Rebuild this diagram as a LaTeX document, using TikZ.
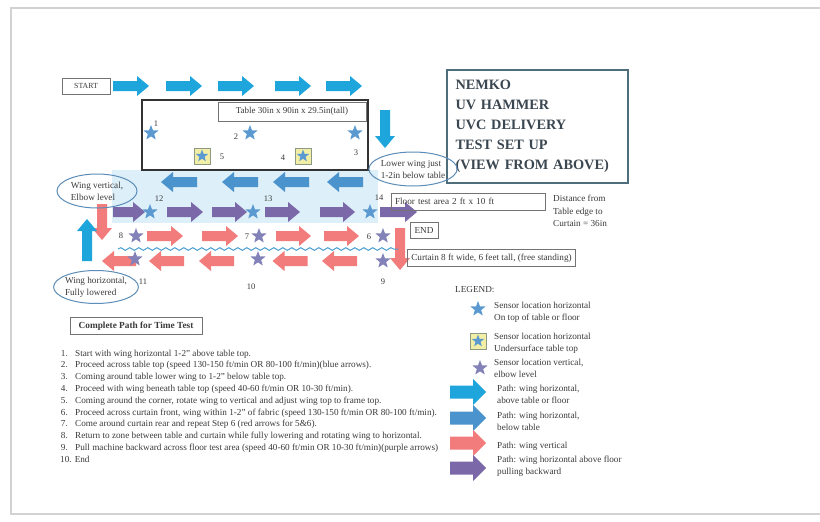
\documentclass[tikz,border=0pt]{standalone}
\usepackage{fontspec}
\setmainfont{Liberation Serif}
\usetikzlibrary{shapes.geometric,decorations.pathmorphing}
\definecolor{cyanA}{HTML}{1EA5DC}
\definecolor{blueB}{HTML}{4A93CC}
\definecolor{redC}{HTML}{F27B7B}
\definecolor{purpD}{HTML}{7B68A8}
\definecolor{starB}{HTML}{5A9AD0}
\definecolor{starP}{HTML}{8282B8}
\definecolor{floorblue}{HTML}{DDEFF8}
\definecolor{ellblue}{HTML}{5B8DB8}
\definecolor{titleframe}{HTML}{4E6E7C}
\definecolor{titletext}{HTML}{3A4650}
\definecolor{sqfill}{HTML}{F2EEA6}
\definecolor{sqborder}{HTML}{8C9A84}
\definecolor{curtainblue}{HTML}{4A9FD0}
\definecolor{txt}{HTML}{3A3A3A}
\newcommand\smallfnt{\fontsize{9.2}{12}\selectfont}
\newcommand\numfnt{\fontsize{8.5}{10}\selectfont}
\newcommand\pathar[8]{%
 \begin{scope}[shift={(#1,#2)},rotate=#3]
 \fill[#5] (-#4,-#6) -- (#4-#8,-#6) -- (#4-#8,-#7) -- (#4,0) -- (#4-#8,#7) -- (#4-#8,#6) -- (-#4,#6) -- cycle;
 \end{scope}}
\newcommand\diarr[5]{\pathar{#1}{#2}{#3}{#4}{#5}{5}{10}{12}}
\newcommand\lgarr[3]{\pathar{#1}{#2}{0}{18}{#3}{6.5}{13}{13}}
\begin{document}
\begin{tikzpicture}[x=1pt,y=-1pt,
  every node/.style={text=txt,font=\smallfnt},
  tbox/.style={draw=black!55,line width=0.6pt,inner xsep=4pt,inner ysep=0pt,minimum height=17pt},
  bstar/.style={star,star points=5,star point ratio=2.4,fill=starB,draw=none,inner sep=0pt,minimum size=16pt},
  pstar/.style={bstar,fill=starP},
  sqs/.style={draw=sqborder,fill=sqfill,line width=1pt,minimum size=16pt,inner sep=0pt},
  num/.style={inner sep=0pt,font=\numfnt},
  callout/.style={ellipse,draw=ellblue,line width=1pt,inner sep=-1pt,align=left},
  lnum/.style={anchor=base east,inner sep=0pt},
  ltxt/.style={anchor=base west,inner sep=0pt},
  lgtxt/.style={anchor=west,align=left,inner sep=0pt}]
\useasboundingbox (0,0) rectangle (820,522);
\clip (0,0) rectangle (820,522);
\fill[white] (0,0) rectangle (820,522);
\draw[gray!35,line width=2pt] (11,8) rectangle (840,514);
% floor area and table
\fill[floorblue] (112,170) rectangle (378,223);
\node[draw=black!80,line width=1.3pt,minimum width=226pt,minimum height=70pt,inner sep=0pt] (table) at (255,135) {};
\node[tbox,minimum width=148pt,minimum height=19pt,font=\fontsize{9}{11}\selectfont] (tlabel) at (292,111.5) {Table 30in x 90in x 29.5in(tall)};
% start
\node[tbox,minimum width=48pt,minimum height=16pt,font=\fontsize{7.8}{9}\selectfont] (start) at (86,86) {START};
% title
\node[draw=titleframe,line width=2.5pt,minimum height=113pt,align=left,text=titletext,
  font=\fontsize{14.3}{20}\selectfont\bfseries,inner xsep=8.5pt,text width=164pt] (title) at (537.5,126.5)
  {NEMKO\\UV HAMMER\\UVC DELIVERY\\TEST SET UP\\(VIEW FROM ABOVE)};
% top arrows (above table)
\diarr{131}{86}{0}{18}{cyanA}
\diarr{184}{86}{0}{18}{cyanA}
\diarr{236}{86}{0}{18}{cyanA}
\diarr{293}{86}{0}{18}{cyanA}
\diarr{344}{86}{0}{18}{cyanA}
\diarr{385}{129}{-90}{19}{cyanA}
% table sensors
\node[bstar] (s1) at (151,133) {};
\node[bstar] (s2) at (250,133) {};
\node[bstar] (s3) at (355,133) {};
\node[sqs] (q5) at (202,156) {};
\node[bstar,minimum size=13pt] (s5) at (q5) {};
\node[sqs] (q4) at (303,156) {};
\node[bstar,minimum size=13pt] (s4) at (q4) {};
\node[num] (n1) at (156,124) {1};
\node[num] (n2) at (236,137) {2};
\node[num] (n3) at (356,153) {3};
\node[num] (n4) at (283,158) {4};
\node[num] (n5) at (222,157) {5};
% below table arrows
\diarr{179}{182}{180}{18}{blueB}
\diarr{240}{182}{180}{18}{blueB}
\diarr{291}{182}{180}{18}{blueB}
\diarr{345}{182}{180}{18}{blueB}
% purple arrows
\diarr{129}{212}{0}{16}{purpD}
\diarr{185}{212}{0}{18}{purpD}
\diarr{229.5}{212}{0}{17.5}{purpD}
\diarr{282.5}{212}{0}{17.5}{purpD}
\diarr{337.5}{212}{0}{17.5}{purpD}
\diarr{398.5}{212}{0}{18.5}{purpD}
\node[bstar] (s12) at (150,212) {};
\node[bstar] (s13) at (253,212) {};
\node[bstar] (s14) at (370,212) {};
\node[num] (n12) at (159,199) {12};
\node[num] (n13) at (268,199) {13};
\node[num] (n14) at (379,198) {14};
% corner arrows
\diarr{102}{222}{-90}{18}{redC}
\diarr{87}{240}{90}{21}{cyanA}
\diarr{400}{249}{-90}{21}{redC}
% curtain front row
\diarr{165}{236}{0}{18}{redC}
\diarr{220}{236}{0}{18}{redC}
\diarr{293.5}{236}{0}{17.5}{redC}
\diarr{341.5}{236}{0}{17.5}{redC}
\node[pstar] (s8) at (136,236) {};
\node[pstar] (s7) at (259,236) {};
\node[pstar] (s6) at (383,236) {};
\node[num] (n8) at (121,236) {8};
\node[num] (n7) at (247,237) {7};
\node[num] (n6) at (369,237) {6};
% curtain
\draw[curtainblue,line width=1pt,decorate,decoration={snake,amplitude=1.3pt,segment length=9pt}] (118,249) -- (398,249);
% curtain rear row
\diarr{119}{261}{180}{17}{redC}
\diarr{166.5}{261}{180}{17.5}{redC}
\diarr{216.5}{261}{180}{17.5}{redC}
\diarr{290}{261}{180}{17.5}{redC}
\diarr{339.5}{261}{180}{17.5}{redC}
\node[pstar] (s11) at (135,259) {};
\node[pstar] (s10) at (258,259) {};
\node[pstar] (s9) at (383,261) {};
\node[num] (n11) at (143,282) {11};
\node[num] (n10) at (251,287) {10};
\node[num] (n9) at (383,282) {9};
% callouts
\node[callout,minimum width=86pt,minimum height=34pt] (lw) at (413,169) {Lower wing just\\1-2in below table};
\node[callout,minimum width=80pt,minimum height=34pt] (wv) at (97,191) {Wing vertical,\\Elbow level};
\node[callout,minimum width=84pt,minimum height=33pt] (wh) at (96,287) {Wing horizontal,\\Fully lowered};
% side boxes
\node[tbox,minimum width=154pt,text width=146pt,align=left] (floor) at (468,201.5) {Floor test area 2 ft x 10 ft};
\node[tbox,minimum width=28pt,minimum height=16pt] (end) at (424,230) {END};
\node[tbox,anchor=west] (curtain) at (407,258) {Curtain 8 ft wide, 6 feet tall, (free standing)};
\node[lgtxt,font=\fontsize{9.2}{12.5}\selectfont] (dist) at (553,211) {Distance from\\Table edge to\\Curtain = 36in};
% path list
\node[tbox,minimum width=132pt,font=\fontsize{9.3}{10}\selectfont\bfseries] (cpt) at (136,326) {Complete Path for Time Test};
\node[lnum] (l1) at (68,356) {1.};
\node[ltxt] (t1) at (75,356) {Start with wing horizontal 1-2” above table top.};
\node[lnum] (l2) at (68,367.8) {2.};
\node[ltxt] (t2) at (75,367.8) {Proceed across table top (speed 130-150 ft/min OR 80-100 ft/min)(blue arrows).};
\node[lnum] (l3) at (68,379.6) {3.};
\node[ltxt] (t3) at (75,379.6) {Coming around table lower wing to 1-2” below table top.};
\node[lnum] (l4) at (68,391.4) {4.};
\node[ltxt] (t4) at (75,391.4) {Proceed with wing beneath table top (speed 40-60 ft/min OR 10-30 ft/min).};
\node[lnum] (l5) at (68,403.2) {5.};
\node[ltxt] (t5) at (75,403.2) {Coming around the corner, rotate wing to vertical and adjust wing top to frame top.};
\node[lnum] (l6) at (68,415) {6.};
\node[ltxt] (t6) at (75,415) {Proceed across curtain front, wing within 1-2” of fabric (speed 130-150 ft/min OR 80-100 ft/min).};
\node[lnum] (l7) at (68,426.8) {7.};
\node[ltxt] (t7) at (75,426.8) {Come around curtain rear and repeat Step 6 (red arrows for 5\&6).};
\node[lnum] (l8) at (68,438.6) {8.};
\node[ltxt] (t8) at (75,438.6) {Return to zone between table and curtain while fully lowering and rotating wing to horizontal.};
\node[lnum] (l9) at (68,450.4) {9.};
\node[ltxt] (t9) at (75,450.4) {Pull machine backward across floor test area (speed 40-60 ft/min OR 10-30 ft/min)(purple arrows)};
\node[ltxt] (t10) at (60,462.2) {10. End};
% legend
\node[lgtxt] (lgh) at (455,290) {LEGEND:};
\node[bstar] (lgs1) at (478,309) {};
\node[lgtxt] (lg1) at (494,312) {Sensor location horizontal\\On top of table or floor};
\node[sqs] (lgq) at (478,341) {};
\node[bstar,minimum size=13pt] (lgs2) at (lgq) {};
\node[lgtxt] (lg2) at (494,343.5) {Sensor location horizontal\\Undersurface table top};
\node[pstar] (lgs3) at (480,368) {};
\node[lgtxt] (lg3) at (494,368) {Sensor location vertical,\\elbow level};
\lgarr{468}{392}{cyanA}
\node[lgtxt] (lg4) at (497,394) {Path: wing horizontal,\\above table or floor};
\lgarr{468}{418}{blueB}
\node[lgtxt] (lg5) at (497,421) {Path: wing horizontal,\\below table};
\lgarr{468}{443}{redC}
\node[lgtxt] (lg6) at (497,446) {Path: wing vertical};
\lgarr{468}{468}{purpD}
\node[lgtxt] (lg7) at (497,466.5) {Path: wing horizontal above floor\\pulling backward};
\end{tikzpicture}
\end{document}
